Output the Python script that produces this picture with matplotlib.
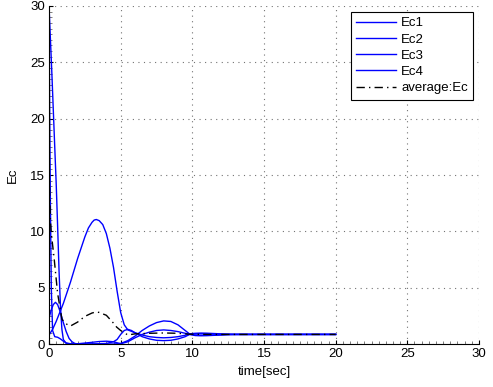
import matplotlib
matplotlib.use('Agg')
import matplotlib.pyplot as plt
from matplotlib.ticker import MultipleLocator

plt.rcParams['font.family'] = ['Liberation Sans', 'DejaVu Sans']

# Ec1: starts high, falls off fast, later the upper arc
t1 = [0, 0.2, 0.4, 0.5, 0.6, 0.7, 0.8, 0.9, 1.0, 1.2, 1.5, 2, 3, 4, 4.5, 5,
      5.5, 6, 6.5, 7, 7.5, 8, 8.5, 9, 9.5, 9.8, 10.2, 10.6, 11, 11.5, 12,
      12.5, 13, 14, 20]
ec1 = [30, 24, 17.5, 14.3, 10.5, 6.5, 3.3, 1.3, 0.4, 0.05, 0, 0, 0, 0, 0,
       0.05, 0.3, 0.7, 1.2, 1.6, 1.9, 2.05, 2.0, 1.7, 1.2, 0.9, 0.95, 0.97,
       0.96, 0.93, 0.9, 0.87, 0.86, 0.85, 0.85]

# Ec2: the big hump around t = 3.3
t2 = [0, 0.25, 0.5, 0.75, 1.0, 1.5, 2.0, 2.5, 2.75, 3.0, 3.15, 3.3, 3.5,
      3.75, 4.0, 4.25, 4.5, 4.75, 5.0, 5.25, 5.5, 6, 6.5, 7, 7.5, 8, 8.5,
      9, 9.5, 9.8, 10.2, 10.6, 11, 11.5, 12, 12.5, 13, 14, 20]
ec2 = [0.8, 1.3, 2.0, 2.8, 3.6, 5.5, 7.6, 9.5, 10.3, 10.8, 11.0, 11.05,
       10.95, 10.6, 9.8, 8.5, 6.8, 4.7, 2.8, 1.7, 1.25, 1.0, 0.8, 0.65,
       0.58, 0.55, 0.58, 0.65, 0.78, 0.85, 0.75, 0.73, 0.74, 0.77, 0.8,
       0.83, 0.84, 0.85, 0.85]

# Ec3: small early peak, bump near t = 5.5, lowest arc
t3 = [0, 0.15, 0.3, 0.45, 0.6, 0.8, 1.0, 1.2, 1.4, 1.6, 1.8, 2.0, 3, 4,
      4.5, 4.75, 5, 5.25, 5.5, 5.75, 6, 6.5, 7, 7.5, 8, 8.5, 9, 9.5, 9.8,
      10.2, 10.6, 11, 11.5, 12, 12.5, 13, 14, 20]
ec3 = [2.3, 3.0, 3.5, 3.7, 3.5, 2.8, 1.9, 1.1, 0.5, 0.2, 0.05, 0, 0, 0.05,
       0.2, 0.4, 0.85, 1.2, 1.3, 1.2, 1.0, 0.65, 0.45, 0.33, 0.3, 0.33,
       0.45, 0.65, 0.85, 0.9, 0.92, 0.91, 0.89, 0.87, 0.86, 0.85, 0.85, 0.85]

# Ec4: near vertical drop at the start, middle arc
t4 = [0, 0.05, 0.1, 0.16, 0.25, 0.4, 0.6, 0.8, 1.0, 1.2, 1.5, 2, 3, 3.5, 4,
      4.5, 5, 5.5, 6, 6.5, 7, 7.5, 8, 8.5, 9, 9.5, 9.8, 10.2, 10.6, 11,
      11.5, 12, 12.5, 13, 14, 20]
ec4 = [30, 20, 12, 5, 1.2, 0.65, 0.6, 0.45, 0.25, 0.1, 0.02, 0.02, 0.15,
       0.22, 0.25, 0.2, 0.02, 0.2, 0.55, 0.85, 1.05, 1.2, 1.25, 1.2, 1.1,
       0.95, 0.87, 0.8, 0.78, 0.79, 0.8, 0.82, 0.84, 0.85, 0.85, 0.85]

# average of the four
ta = [0, 0.1, 0.16, 0.35, 0.6, 0.9, 1.1, 1.3, 1.5, 2, 2.5, 3, 3.3, 3.5, 4,
      4.5, 4.72, 5, 5.5, 6, 7, 8, 9, 9.8, 11, 13, 20]
avg = [15.5, 11, 9.8, 7.7, 4.5, 2.2, 1.9, 1.7, 1.6, 1.95, 2.45, 2.75, 2.85,
       2.8, 2.55, 1.85, 1.5, 1.2, 0.8, 0.9, 0.95, 0.98, 0.95, 0.87, 0.85,
       0.85, 0.85]

fig = plt.figure(figsize=(4.93, 3.87), dpi=100)
ax = fig.add_axes([0.0994, 0.1111, 0.8722, 0.8734])

ax.plot(t1, ec1, '-', color='blue', lw=1.0, label='Ec1')
ax.plot(t2, ec2, '-', color='blue', lw=1.0, label='Ec2')
ax.plot(t3, ec3, '-', color='blue', lw=1.0, label='Ec3')
ax.plot(t4, ec4, '-', color='blue', lw=1.0, label='Ec4')
ax.plot(ta, avg, color='black', lw=1.0, dashes=[6, 3, 1, 3],
        label='average:Ec')

ax.set_xlim(0, 30)
ax.set_ylim(0, 30)
ax.xaxis.set_major_locator(MultipleLocator(5))
ax.yaxis.set_major_locator(MultipleLocator(5))
ax.xaxis.set_minor_locator(MultipleLocator(0.5))
ax.yaxis.set_minor_locator(MultipleLocator(0.5))
ax.tick_params(which='both', direction='in', labelsize=9.5, pad=3)
ax.tick_params(which='major', length=3)
ax.tick_params(which='minor', length=2, color='0.4')
ax.spines['top'].set_visible(False)
ax.spines['right'].set_visible(False)
ax.grid(True, which='major', linestyle=(0, (1, 4)), color='0.45', lw=0.8)

ax.set_xlabel('time[sec]', fontsize=9.5, labelpad=4)
ax.set_ylabel('Ec', fontsize=9.5, labelpad=8)

leg = ax.legend(loc='upper right', fontsize=9.5, fancybox=False,
                framealpha=1, edgecolor='black', handlelength=3.0,
                handletextpad=0.4, borderaxespad=0.45, labelspacing=0.3,
                borderpad=0.4)
leg.get_frame().set_linewidth(0.8)

fig.savefig('out.png', dpi=100)
